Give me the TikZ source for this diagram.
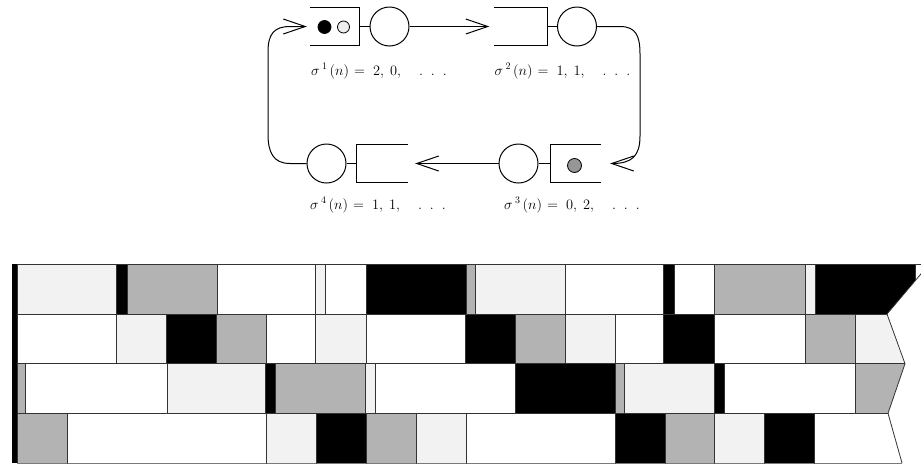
\documentclass[tikz,border=0pt]{standalone}
\usetikzlibrary{arrows.meta}
\definecolor{lgray}{RGB}{242,242,242}
\definecolor{mgray}{RGB}{179,179,179}
\definecolor{dotgray}{RGB}{150,150,150}
\definecolor{dotlight}{RGB}{238,238,238}
\newcommand\seqlab[3]{$\sigma^{\hspace{2.5pt}#1}\hspace{2pt}(n)$\hspace{5pt}$=$\hspace{8pt}#2,\hspace{6pt}#3,\hspace{18pt}.\hspace{8pt}.\hspace{8pt}.}
\begin{document}
\begin{tikzpicture}[x=1pt,y=-1pt,
  srv/.style={circle,draw,line width=1pt,minimum size=39pt,inner sep=0pt},
  qbox/.style={rectangle,minimum width=#1,minimum height=37pt,inner sep=0pt},
  job/.style={circle,draw,line width=0.8pt,minimum size=13pt,inner sep=0pt},
  conn/.style={line width=1pt},
  flow/.style={line width=1pt,-{Straight Barb[length=22pt,width=15pt]}},
  lbl/.style={inner sep=0pt,anchor=base west,font=\fontsize{14.4}{17}\selectfont},
  cell/.style={draw=black!80,line width=0.8pt}]
\useasboundingbox (0,0) rectangle (921,464);
% queues and servers
\node[qbox=49pt] (q1) at (334.5,26.5) {};
\node[srv] (s1) at (389.5,26.5) {};
\node[qbox=53pt] (q2) at (520.5,26.5) {};
\node[srv] (s2) at (577,26.5) {};
\node[srv] (s3) at (518.5,163.5) {};
\node[qbox=50pt] (q3) at (576,163.5) {};
\node[srv] (s4) at (326.5,163.5) {};
\node[qbox=51pt] (q4) at (382.5,163.5) {};
\draw[conn] (q1.north west) -- (q1.north east) -- (q1.south east) -- (q1.south west);
\draw[conn] (q2.north west) -- (q2.north east) -- (q2.south east) -- (q2.south west);
\draw[conn] (q3.north east) -- (q3.north west) -- (q3.south west) -- (q3.south east);
\draw[conn] (q4.north east) -- (q4.north west) -- (q4.south west) -- (q4.south east);
\node[job,fill=black] (j1) at (324.5,27) {};
\node[job,fill=dotlight,minimum size=12pt] (j2) at (343.5,27) {};
\node[job,fill=dotgray,minimum size=14pt] (j3) at (574.5,165.5) {};
\draw[conn] (q1.east) -- (s1.west);
\draw[conn] (q2.east) -- (s2.west);
\draw[conn] (s3.east) -- (q3.west);
\draw[conn] (s4.east) -- (q4.west);
\draw[flow,shorten >=4.5pt] (s1.east) -- (q2.west);
\draw[flow,shorten >=7pt] (s3.west) -- (q4.east);
\draw[flow,shorten >=9pt] (s2.east) -- (620,26.5) .. controls (636,26.5) and (640,36) .. (640,54) -- (640,136) .. controls (640,156) and (632,163.5) .. (q3.east);
\draw[flow,shorten >=3pt] (s4.west) -- (290,163.5) .. controls (273,163.5) and (268,152) .. (268,134) -- (268,52) .. controls (268,34) and (274,26.5) .. (290,26.5) -- (q1.west);
% labels
\node[lbl] (l1) at (311,75) {\seqlab{1}{2}{0}};
\node[lbl] (l2) at (494.5,75) {\seqlab{2}{1}{1}};
\node[lbl] (l3) at (504,209) {\seqlab{3}{0}{2}};
\node[lbl] (l4) at (310,209) {\seqlab{4}{1}{1}};
% chart
\begin{scope}
\clip (11.5,263.8) -- (929.5,263.8) -- (887,314) -- (905,363.7) -- (888,413.3) -- (902,463.6) -- (11.5,463.6) -- cycle;
\foreach \a/\b/\c in {17/116/lgray,116/127/black,127/217/mgray,217/315/white,315/325/lgray,325/366/white,366/466/black,466/475/mgray,475/565/lgray,565/663/white,663/674/black,674/714/white,714/805/mgray,805/815/lgray,815/915/black,915/1000/white}
  \filldraw[cell,fill=\c] (\a,264.3) rectangle (\b,314);
\foreach \a/\b/\c in {17/116/white,116/166/lgray,166/216/black,216/266/mgray,266/315/white,315/366/lgray,366/465/white,465/515/black,515/565/mgray,565/615/lgray,615/663/white,663/714/black,714/805/white,805/855/mgray,855/1000/lgray}
  \filldraw[cell,fill=\c] (\a,314) rectangle (\b,363.7);
\foreach \a/\b/\c in {17/25/mgray,25/167/white,167/265/lgray,265/275/black,275/365/mgray,365/375/lgray,375/515/white,515/615/black,615/624/mgray,624/714/lgray,714/724/black,724/855/white,855/1000/mgray}
  \filldraw[cell,fill=\c] (\a,363.7) rectangle (\b,413.3);
\foreach \a/\b/\c in {17/67/mgray,67/266/white,266/316/lgray,316/366/black,366/416/mgray,416/466/lgray,466/615/white,615/665/black,665/714/mgray,714/764/lgray,764/814/black,814/1000/white}
  \filldraw[cell,fill=\c] (\a,413.3) rectangle (\b,463);
\fill[black] (12,264.3) rectangle (17,463);
\end{scope}
\draw[cell] (929.5,263.8) -- (887,314) -- (905,363.7) -- (888,413.3) -- (902,463);
\end{tikzpicture}
\end{document}
